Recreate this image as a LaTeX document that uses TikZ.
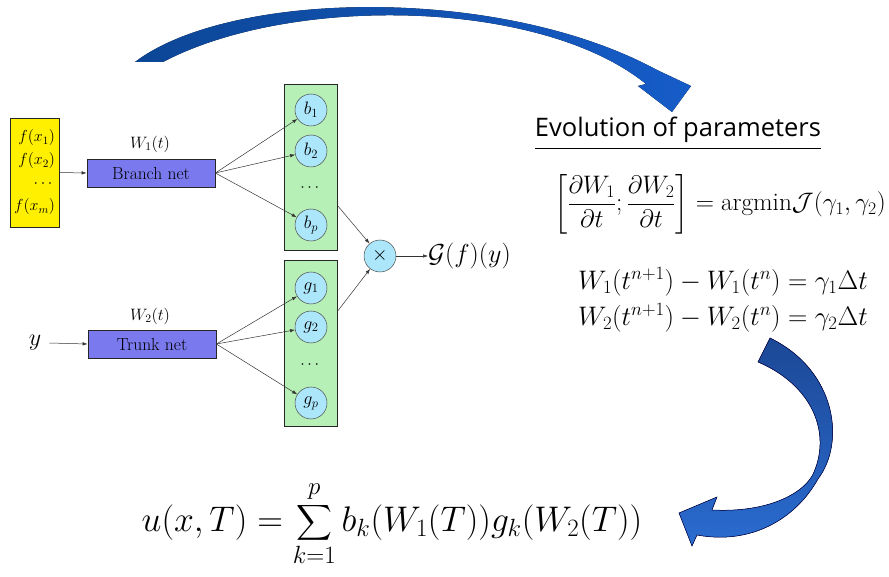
\RequirePackage{fix-cm}
\documentclass[tikz,border=0pt]{standalone}
\usepackage{amsmath}
\usepackage{exscale}
\usepackage{fontspec}
\newfontfamily\handfont{Open Sans}
\usetikzlibrary{arrows.meta,calc}
\definecolor{inyellow}{RGB}{255,240,0}
\definecolor{netblue}{RGB}{122,122,238}
\definecolor{boxgreen}{RGB}{182,240,182}
\definecolor{cellcyan}{RGB}{172,230,250}
\definecolor{bigblueA}{RGB}{12,70,150}
\definecolor{bigblueB}{RGB}{22,92,200}
\definecolor{curlA}{RGB}{28,72,150}
\definecolor{curlB}{RGB}{42,108,208}
\begin{document}
\begin{tikzpicture}[x=1pt,y=-1pt,
  arr/.style={-{Latex[length=5pt,width=3.5pt]}, line width=0.5pt, draw=black!80},
  inbox/.style={draw=black!85, line width=0.8pt, fill=inyellow, minimum width=49pt, minimum height=109pt, inner sep=0pt},
  netbox/.style={draw=black!85, line width=0.8pt, fill=netblue, minimum width=128pt, minimum height=28pt, inner sep=0pt, font=\fontsize{17.5}{20}\selectfont},
  colbox/.style={draw=black!85, line width=0.8pt, fill=boxgreen, minimum width=53pt, minimum height=166pt, inner sep=0pt},
  cell/.style={circle, draw=black!70, line width=0.5pt, fill=cellcyan, minimum size=32pt, inner sep=0pt, font=\fontsize{18}{20}\selectfont},
  lab/.style={inner sep=0pt, font=\fontsize{16.5}{20}\selectfont},
  dots/.style={inner sep=0pt, font=\fontsize{16}{19}\selectfont},
]
\useasboundingbox (0,0) rectangle (889,577);

% ---- big curved arrow on top
\fill[left color=bigblueA, right color=bigblueB]
  (135,62) .. controls (230,-10) and (500,-15) .. (657,70)
  -- (691,86) -- (672,112) -- (638,86) -- (646,84)
  .. controls (540,-2) and (290,-5) .. (163,62) -- cycle;

% ---- curled arrow on the right
\filldraw[draw=black!75!blue, line width=0.5pt, top color=curlA, bottom color=curlB]
  (770,338) .. controls (836,370) and (846,442) .. (818,479)
  .. controls (795,520) and (750,545) .. (697,535)
  -- (692,546) -- (679,513) -- (717,497) -- (712,510)
  .. controls (770,513) and (806,492) .. (814,472)
  .. controls (831,432) and (812,385) .. (758,362) -- cycle;

% ---- branch / trunk inputs
\node[inbox, align=right, text width=41pt, font=\fontsize{16}{23}\selectfont] (fin) at (34.5,172.5)
  {$f(x_1)$\\ $f(x_2)$\\ $\cdots$\\ $f(x_m)$};
\node[netbox] (branch) at (151,173) {Branch net};
\node[netbox] (trunk) at (152,344) {Trunk net};
\node[lab] (w1) at (150,144) {$W_1(t)$};
\node[lab] (w2) at (150,316) {$W_2(t)$};
\node[inner sep=0pt, font=\fontsize{24}{28}\selectfont] (yin) at (35,343) {$y$};
\coordinate (ystart) at ($(yin.east)+(8,0)$);

% ---- output columns
\node[colbox] (topcol) at (310.5,167) {};
\node[colbox] (botcol) at (310.5,343.5) {};
\node[cell] (b1) at (311,110) {$b_1$};
\node[cell] (b2) at (311,151) {$b_2$};
\node[dots] (bd) at (311,188) {$\cdots$};
\node[cell] (bp) at (311,225) {$b_p$};
\node[cell] (g1) at (311,288) {$g_1$};
\node[cell] (g2) at (311,327) {$g_2$};
\node[dots] (gd) at (311,365) {$\cdots$};
\node[cell] (gp) at (311,403) {$g_p$};

\node[cell, font=\fontsize{20}{24}\selectfont] (times) at (380,256) {$\times$};
\node[anchor=west, inner sep=0pt, font=\fontsize{26}{30}\selectfont] (gout) at (428,256) {$\mathcal{G}(f)(y)$};

% ---- connectors
\draw[arr] (fin.east) -- (branch.west);
\draw[arr] (ystart) -- (trunk.west);
\foreach \c in {b1,b2,bp} \draw[arr] (branch.east) -- (\c);
\foreach \c in {g1,g2,gp} \draw[arr] (trunk.east) -- (\c);
\draw[arr] (topcol.-55) -- (times);
\draw[arr] (botcol.50) -- (times);
\draw[arr] (times) -- (gout.west);

% ---- right-hand text
\node[inner sep=0pt, font=\handfont\fontsize{25.5}{29}\selectfont] (evo) at (678,130) {Evolution of parameters};
\draw[line width=0.9pt] ($(evo.south west)+(0,5)$) -- ($(evo.south east)+(0,5)$);

\node[inner sep=0pt, font=\fontsize{25.3}{28}\selectfont] (eqa) at (720,204)
  {$\displaystyle\left[\frac{\partial W_1}{\partial t};\frac{\partial W_2}{\partial t}\right]=\mathrm{argmin}\mathcal{J}(\gamma_1,\gamma_2)$};
\node[inner sep=0pt, font=\fontsize{26.8}{30}\selectfont] (eqb) at (723,282)
  {$W_1(t^{n+1})-W_1(t^n)=\gamma_1\Delta t$};
\node[inner sep=0pt, font=\fontsize{26.8}{30}\selectfont] (eqc) at (723,318)
  {$W_2(t^{n+1})-W_2(t^n)=\gamma_2\Delta t$};

\node[inner sep=0pt, font=\fontsize{35.6}{40}\selectfont] (ueq) at (392,524)
  {$\displaystyle u(x,T)=\sum_{k=1}^{p}b_k(W_1(T))g_k(W_2(T))$};
\end{tikzpicture}
\end{document}
